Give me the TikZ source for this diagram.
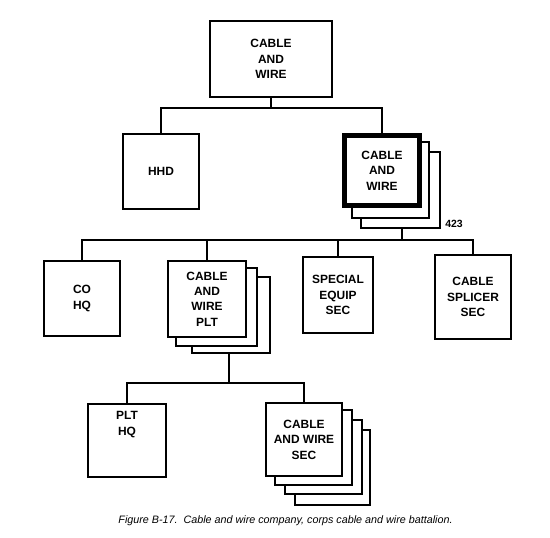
\documentclass[tikz,border=0pt]{standalone}
\usepackage{fontspec}
\setmainfont{Liberation Sans}
\usetikzlibrary{positioning}
\newcommand{\unitfont}{\fontsize{12}{15.5}\selectfont\bfseries}
\tikzset{
	unit/.style={draw, line width=2.1bp, fill=white, minimum width=76bp, minimum height=75bp, inner sep=0pt, align=center, font=\unitfont},
	mainunit/.style={unit, line width=4.8bp, minimum width=75bp, minimum height=70bp},
	copybox/.style={draw, line width=2.1bp, fill=white},
	link/.style={line width=2.1bp}
}

\begin{document}
\begin{tikzpicture}[x=1bp, y=-1bp]
			%%%%% FRAME %%%%%
			\useasboundingbox (0, 0) rectangle (550, 538);
			
			%%%%% COMPANY %%%%%
			\node[unit, minimum width=122bp, minimum height=76bp] (top) at (271, 59) {CABLE\\AND\\WIRE};
			\node[unit] (hhd) at (161, 171.5) {HHD};
			
			\draw[copybox] (361, 152) rectangle (440, 228);
			\draw[copybox] (352, 142) rectangle (429, 218);
			\node[mainunit] (bn) at (382, 170.5) {CABLE\\AND\\WIRE};
			\coordinate (bnback) at (402, 228);
			\node[font=\fontsize{10.5}{12}\selectfont\bfseries] (uic) at (454, 223.5) {423};
			
			\draw[link] (top.south) -- ++(0, 10) -| (hhd.north);
			\draw[link] (top.south) -- ++(0, 10) -| (bn.north);
			
			%%%%% PLATOONS AND SECTIONS %%%%%
			\node[unit] (cohq) at (82, 298.5) {CO\\HQ};
			
			\draw[copybox] (192, 277) rectangle (270, 353);
			\draw[copybox] (176, 268) rectangle (257, 346);
			\node[unit, minimum width=78bp, minimum height=76bp] (plt) at (207, 299) {CABLE\\AND\\WIRE\\PLT};
			\coordinate (pltback) at (229, 353);
			
			\node[unit, minimum width=70bp, minimum height=76bp] (spec) at (338, 295) {SPECIAL\\EQUIP\\SEC};
			\node[unit, minimum height=84bp] (splice) at (473, 297) {CABLE\\SPLICER\\SEC};
			
			\draw[link] (bnback) -- ++(0, 12) -| (cohq.north);
			\draw[link] (bnback) -- ++(0, 12) -| (plt.north);
			\draw[link] (bnback) -- ++(0, 12) -| (spec.north);
			\draw[link] (bnback) -- ++(0, 12) -| (splice.north);
			
			%%%%% PLATOON %%%%%
			\node[unit, minimum width=78bp, minimum height=73bp, label={[align=center, font=\unitfont, yshift=16bp]center:PLT\\HQ}] (plthq) at (127, 440.5) {};
			
			\draw[copybox] (295, 430) rectangle (370, 505);
			\draw[copybox] (285, 420) rectangle (362, 494);
			\draw[copybox] (275, 410) rectangle (352, 485);
			\node[unit, minimum height=73bp] (sec) at (304, 439.5) {CABLE\\AND WIRE\\SEC};
			
			\draw[link] (pltback) -- ++(0, 30) -| (plthq.north);
			\draw[link] (pltback) -- ++(0, 30) -| (sec.north);
			
			%%%%% CAPTION %%%%%
			\node[font=\fontsize{10.8}{12}\selectfont\itshape] (caption) at (285.5, 521) {Figure B-17.\ \ Cable and wire company, corps cable and wire battalion.};
\end{tikzpicture}
\end{document}
